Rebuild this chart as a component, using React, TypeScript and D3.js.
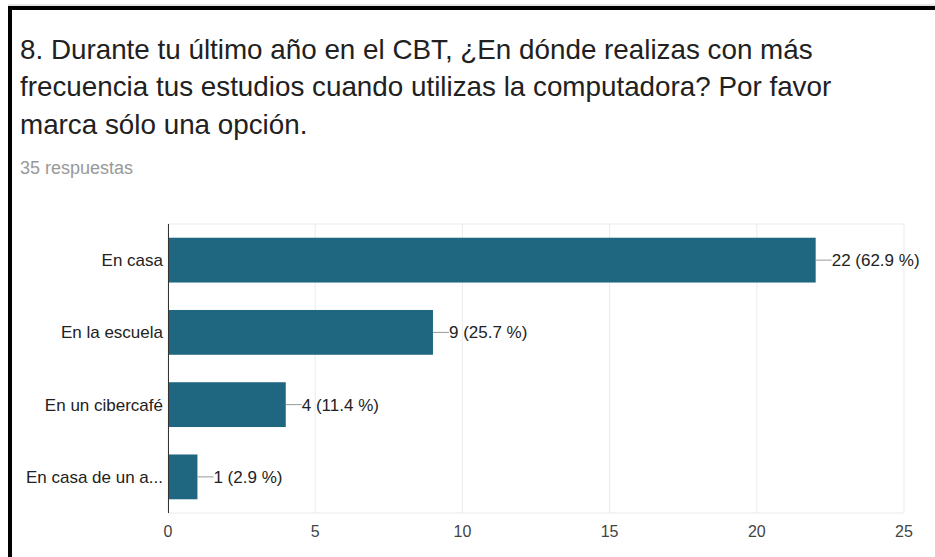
import React from "react";
import * as d3 from "d3";

const categories = ["En casa", "En la escuela", "En un cibercafé", "En casa de un a..."];
const counts = [22, 9, 4, 1];
const percents = ["62.9", "25.7", "11.4", "2.9"];
const xTicks = [0, 5, 10, 15, 20, 25];
const titleLines = [
  "8. Durante tu último año en el CBT, ¿En dónde realizas con más",
  "frecuencia tus estudios cuando utilizas la computadora? Por favor",
  "marca sólo una opción.",
];
const subtitle = "35 respuestas";

export default function App() {
  const W = 935, H = 557;
  const x = d3.scaleLinear().domain([0, 25]).range([168, 904]);
  const y = d3.scaleBand<string>().domain(categories).range([224, 513]).paddingInner(0.38).paddingOuter(0.19);
  const font = "Arial, 'Liberation Sans', sans-serif";
  return (
    <div style={{ position: "fixed", left: 0, top: 0, width: W, height: H, background: "#fff" }}>
      <svg width={W} height={H} style={{ display: "block" }} fontFamily={font}>
        <rect x={0} y={0} width={W} height={H} fill="#fff" />
        <line x1={8} x2={W} y1={5} y2={5} stroke="#ccc" strokeWidth={1} />
        <rect x={8} y={6} width={W - 8} height={4} fill="#000" />
        <rect x={8} y={6} width={4} height={H - 6} fill="#000" />
        {titleLines.map((t, i) => (
          <text key={i} x={20} y={58.5 + i * 37.5} fontSize={27.8} fill="#212121">{t}</text>
        ))}
        <text x={20} y={174} fontSize={18} fill="#999">{subtitle}</text>
        {xTicks.map((t) => (
          <line key={"g" + t} x1={x(t)} x2={x(t)} y1={224} y2={513} stroke="#ebebeb" strokeWidth={1} />
        ))}
        <line x1={168} x2={904} y1={224} y2={224} stroke="#ebebeb" />
        <line x1={168} x2={904} y1={513} y2={513} stroke="#ebebeb" />
        {categories.map((c, i) => {
          const yy = y(c)!;
          const bh = y.bandwidth();
          const xe = x(counts[i]);
          const cy = yy + bh / 2;
          return (
            <g key={c}>
              <rect x={x(0)} y={yy} width={xe - x(0)} height={bh} fill="#1f6680" />
              <text x={163} y={cy} dy="0.35em" textAnchor="end" fontSize={17} fill="#222">{c}</text>
              <line x1={xe} x2={xe + 16} y1={cy} y2={cy} stroke="#999" strokeWidth={1} />
              <text x={xe + 16} y={cy} dy="0.35em" fontSize={17} fill="#222">{`${counts[i]} (${percents[i]} %)`}</text>
            </g>
          );
        })}
        <line x1={168.5} x2={168.5} y1={224} y2={513} stroke="#333" strokeWidth={1} />
        {xTicks.map((t) => (
          <text key={"t" + t} x={x(t)} y={531} dy="0.35em" textAnchor="middle" fontSize={16} fill="#444">{t}</text>
        ))}
      </svg>
    </div>
  );
}
